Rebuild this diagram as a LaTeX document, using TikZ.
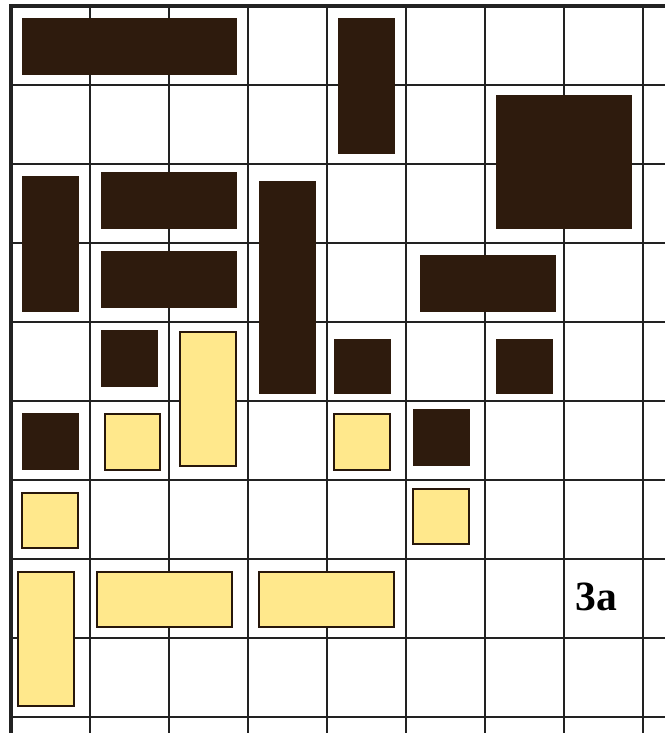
\documentclass[tikz,border=0pt]{standalone}
\usepackage{fontspec}
\setmainfont{Liberation Serif}
\usepackage{tikz}
\definecolor{darkblock}{HTML}{2E1B0D}
\definecolor{sandblock}{HTML}{FFE88C}
\definecolor{gridline}{HTML}{222222}

\begin{document}
\begin{tikzpicture}[x=1cm,y=-1cm,
  dark/.style={fill=darkblock,draw=darkblock,line width=0.3pt},
  sand/.style={fill=sandblock,draw=darkblock!85!black,line width=0.75pt}]
\pgfmathsetmacro{\xmin}{-0.139}
\pgfmathsetmacro{\ymin}{-0.076}
\pgfmathsetmacro{\xmax}{8.278}
\pgfmathsetmacro{\ymax}{9.203}
\clip (\xmin,\ymin) rectangle (\xmax,\ymax);
\fill[white] (\xmin,\ymin) rectangle (\xmax,\ymax);
% grid
\foreach \i in {1,...,8}
  \draw[gridline,line width=0.75pt] (\i,0) -- (\i,\ymax);
\foreach \j in {1,...,9}
  \draw[gridline,line width=0.75pt] (0,\j) -- (\xmax,\j);
\draw[gridline,line width=1.3pt] (0,\ymax) -- (0,0) -- (\xmax,0);
% dark pieces
\draw[dark] (0.14,0.16) rectangle (2.85,0.86);
\draw[dark] (4.14,0.16) rectangle (4.85,1.87);
\draw[dark] (6.14,1.13) rectangle (7.85,2.82);
\draw[dark] (0.14,2.16) rectangle (0.85,3.87);
\draw[dark] (1.14,2.11) rectangle (2.85,2.81);
\draw[dark] (1.14,3.11) rectangle (2.85,3.81);
\draw[dark] (3.14,2.22) rectangle (3.85,4.91);
\draw[dark] (5.18,3.16) rectangle (6.89,3.86);
\draw[dark] (1.14,4.11) rectangle (1.85,4.82);
\draw[dark] (4.09,4.22) rectangle (4.80,4.91);
\draw[dark] (6.14,4.22) rectangle (6.85,4.91);
\draw[dark] (0.14,5.16) rectangle (0.85,5.87);
\draw[dark] (5.09,5.11) rectangle (5.80,5.82);
% light pieces
\draw[sand] (2.14,4.13) rectangle (2.85,5.82);
\draw[sand] (1.19,5.16) rectangle (1.89,5.87);
\draw[sand] (0.14,6.16) rectangle (0.85,6.86);
\draw[sand] (4.09,5.16) rectangle (4.80,5.87);
\draw[sand] (5.09,6.11) rectangle (5.80,6.81);
\draw[sand] (0.09,7.16) rectangle (0.80,8.86);
\draw[sand] (1.09,7.16) rectangle (2.80,7.86);
\draw[sand] (3.14,7.16) rectangle (4.85,7.86);
\node[font=\fontsize{15}{18}\selectfont\bfseries,inner sep=0pt] (tag) at (7.41,7.48) {3a};
\end{tikzpicture}
\end{document}
